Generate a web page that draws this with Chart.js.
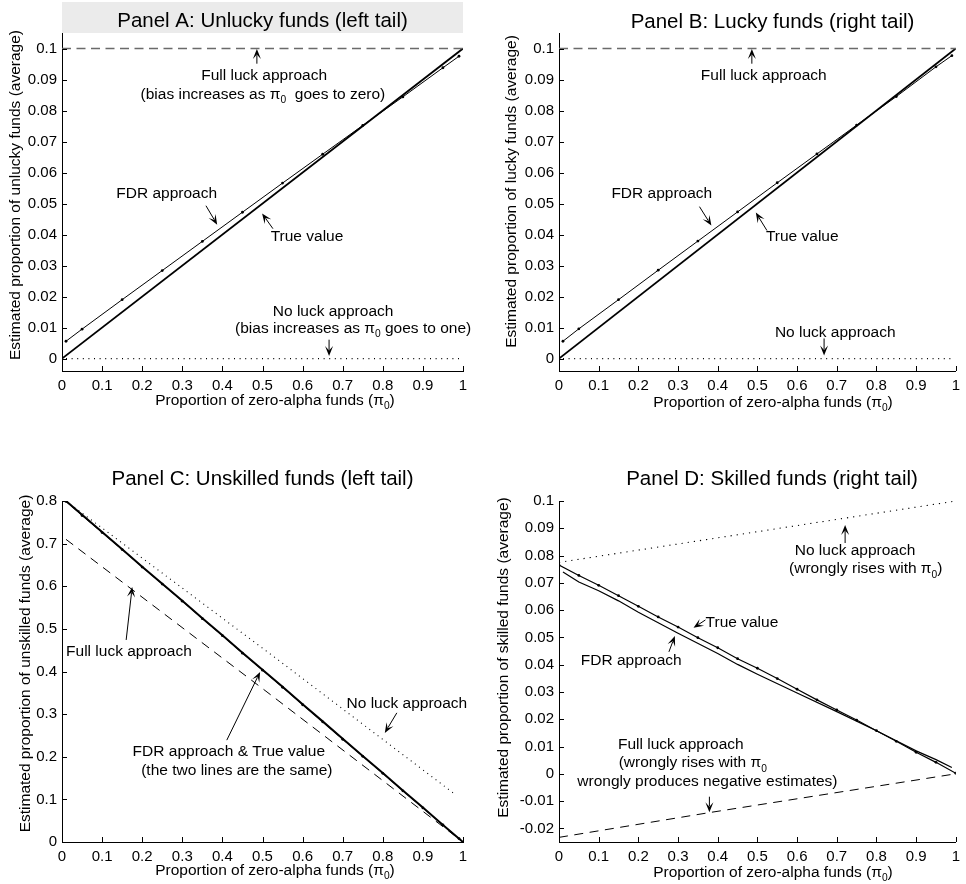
<!DOCTYPE html>
<html><head><meta charset="utf-8">
<script src="https://cdn.jsdelivr.net/npm/chart.js@4.4.1/dist/chart.umd.min.js"></script>
<style>
html,body{margin:0;padding:0;background:#fff;}
#wrap{position:relative;width:966px;height:884px;overflow:hidden;}
canvas{position:absolute;}
</style></head><body>
<div id="wrap">
<canvas id="cA" width="483" height="442" style="left:0;top:0;width:483px;height:442px"></canvas>
<canvas id="cB" width="483" height="442" style="left:483px;top:0;width:483px;height:442px"></canvas>
<canvas id="cC" width="483" height="442" style="left:0;top:442px;width:483px;height:442px"></canvas>
<canvas id="cD" width="483" height="442" style="left:483px;top:442px;width:483px;height:442px"></canvas>
</div>
<script>
// ---------- data ----------
const xTicks = [0,0.1,0.2,0.3,0.4,0.5,0.6,0.7,0.8,0.9,1];
const yTicksAB = [0,0.01,0.02,0.03,0.04,0.05,0.06,0.07,0.08,0.09,0.1];
const yTicksC = [0,0.1,0.2,0.3,0.4,0.5,0.6,0.7,0.8];
const yTicksD = [-0.02,-0.01,0,0.01,0.02,0.03,0.04,0.05,0.06,0.07,0.08,0.09,0.1];

// Panel A: unlucky funds
const piTrueA = [0, 1];
const trueA = [0, 0.1];
const piFdrA = [0.01,0.05,0.15,0.25,0.35,0.45,0.55,0.65,0.75,0.85,0.95,0.99];
const fdrA = [0.0056,0.0095,0.0190,0.0284,0.0378,0.0472,0.0566,0.0659,0.0752,0.0844,0.0938,0.0975];
const piFullA = [0, 1];
const fullA = [0.1, 0.1];
const piNoneA = [0.01, 0.99];
const noneA = [0, 0];

// Panel B: lucky funds
const piTrueB = [0, 1];
const trueB = [0, 0.1];
const piFdrB = [0.01,0.05,0.15,0.25,0.35,0.45,0.55,0.65,0.75,0.85,0.95,0.99];
const fdrB = [0.0056,0.0096,0.0190,0.0285,0.0379,0.0473,0.0567,0.0660,0.0753,0.0845,0.0941,0.0977];
const piFullB = [0, 1];
const fullB = [0.1, 0.1];
const piNoneB = [0.01, 0.99];
const noneB = [0, 0];

// Panel C: unskilled funds
const piTrueC = [0.01,0.05,0.1,0.15,0.2,0.25,0.3,0.35,0.4,0.45,0.5,0.55,0.6,0.65,0.7,0.75,0.8,0.85,0.9,0.95,1];
const trueC = [0.800,0.768,0.727,0.687,0.646,0.606,0.566,0.525,0.485,0.444,0.404,0.364,0.323,0.283,0.242,0.202,0.162,0.121,0.081,0.040,0];
const piFdrC = [0.01,0.05,0.1,0.15,0.2,0.25,0.3,0.35,0.4,0.45,0.5,0.55,0.6,0.65,0.7,0.75,0.8,0.85,0.9,0.95,0.99];
const fdrC = [0.799,0.766,0.726,0.686,0.645,0.605,0.565,0.524,0.484,0.443,0.403,0.363,0.322,0.282,0.241,0.201,0.161,0.120,0.080,0.040,0.008];
const piFullC = [0.01, 0.5, 1];
const fullC = [0.71, 0.36, 0];
const piNoneC = [0.01, 0.535, 0.98];
const noneC = [0.8, 0.43, 0.112];

// Panel D: skilled funds
const piTrueD = [0,0.05,0.1,0.15,0.2,0.25,0.3,0.35,0.4,0.45,0.5,0.55,0.6,0.65,0.7,0.75,0.8,0.85,0.9,0.95,1];
const trueD = [0.0765,0.0727,0.0691,0.0653,0.0614,0.0575,0.0538,0.0499,0.0462,0.0422,0.0387,0.0349,0.0310,0.0271,0.0234,0.0197,0.0158,0.0119,0.0079,0.0042,0.0002];
const piFdrD = [0.01,0.05,0.1,0.15,0.2,0.3,0.4,0.45,0.5,0.6,0.7,0.8,0.85,0.9,0.95,0.99];
const fdrD = [0.0740,0.0703,0.0671,0.0634,0.0592,0.0515,0.0441,0.0401,0.0365,0.0296,0.0228,0.0158,0.0121,0.0084,0.0052,0.0023];
const piFullD = [0, 0.38, 1];
const fullD = [-0.0233, -0.0142, 0];
const piNoneD = [0, 1];
const noneD = [0.0775, 0.1];

// ---------- helpers ----------
const FONT = '"Liberation Sans", Arial, Helvetica, sans-serif';
Chart.defaults.font.family = FONT;
Chart.defaults.color = '#000';

const pts = (xs, ys) => xs.map((x, i) => ({x: x, y: ys[i]}));
const fmt = v => Math.abs(v) < 1e-9 ? '0' : String(parseFloat(v.toFixed(3)));

function drawRich(ctx, parts, cx, cy, size, align) {
  const sub = size * 0.66;
  const ws = parts.map(p => { ctx.font = (p[1] ? sub : size) + 'px ' + FONT; return ctx.measureText(p[0]).width; });
  const w = ws.reduce((a, b) => a + b, 0);
  let x = align === 'left' ? cx : cx - w / 2;
  const base = cy + size * 0.36;
  ctx.textAlign = 'left';
  ctx.textBaseline = 'alphabetic';
  parts.forEach((p, i) => {
    ctx.font = (p[1] ? sub : size) + 'px ' + FONT;
    ctx.fillText(p[0], x, base + (p[1] ? size * 0.27 : 0));
    x += ws[i];
  });
}

function drawArrow(ctx, x1, y1, x2, y2) {
  const dx = x2 - x1, dy = y2 - y1, L = Math.hypot(dx, dy);
  const ux = dx / L, uy = dy / L, nx = -uy, ny = ux;
  const hl = 10, hw = 4;
  ctx.beginPath();
  ctx.moveTo(x1, y1);
  ctx.lineTo(x2 - ux * hl * 0.6, y2 - uy * hl * 0.6);
  ctx.stroke();
  ctx.beginPath();
  ctx.moveTo(x2, y2);
  ctx.lineTo(x2 - ux * hl + nx * hw, y2 - uy * hl + ny * hw);
  ctx.lineTo(x2 - ux * hl * 0.55, y2 - uy * hl * 0.55);
  ctx.lineTo(x2 - ux * hl - nx * hw, y2 - uy * hl - ny * hw);
  ctx.closePath();
  ctx.fill();
}

const decoPlugin = {
  id: 'deco',
  beforeDraw(chart, args, o) {
    const ctx = chart.ctx, a = chart.chartArea;
    ctx.save();
    ctx.fillStyle = '#fff';
    ctx.fillRect(0, 0, chart.width, chart.height);
    if (o.box) {
      ctx.fillStyle = '#ebebeb';
      ctx.fillRect(a.left, o.box, a.right - a.left, a.top - o.box);
    }
    ctx.restore();
  },
  afterDraw(chart, args, o) {
    const ctx = chart.ctx, a = chart.chartArea;
    const xs = chart.scales.x, ys = chart.scales.y;
    ctx.save();
    ctx.strokeStyle = '#000';
    ctx.fillStyle = '#000';
    ctx.lineWidth = 1;
    // inward tick marks
    ctx.beginPath();
    xs.ticks.forEach(t => {
      const px = Math.round(xs.getPixelForValue(t.value)) + 0.5;
      ctx.moveTo(px, a.bottom); ctx.lineTo(px, a.bottom - 5);
    });
    ys.ticks.forEach(t => {
      const py = Math.round(ys.getPixelForValue(t.value)) + 0.5;
      ctx.moveTo(a.left, py); ctx.lineTo(a.left + 5, py);
    });
    ctx.stroke();
    // panel title
    ctx.font = '20.5px ' + FONT;
    ctx.textAlign = 'center';
    ctx.textBaseline = 'alphabetic';
    ctx.fillText(o.title, o.titlePos[0], o.titlePos[1]);
    // y axis title
    ctx.save();
    ctx.translate(o.yTitlePos[0], o.yTitlePos[1]);
    ctx.rotate(-Math.PI / 2);
    drawRich(ctx, [[o.yTitle, 0]], 0, 0, 15.5);
    ctx.restore();
    // x axis title
    drawRich(ctx, [['Proportion of zero-alpha funds (\u03c0', 0], ['0', 1], [')', 0]], o.xTitlePos[0], o.xTitlePos[1], 15.5);
    // annotations
    ctx.lineWidth = 1;
    (o.notes || []).forEach(n => {
      if (n.arrow) {
        drawArrow(ctx, xs.getPixelForValue(n.arrow[0]), ys.getPixelForValue(n.arrow[1]),
                       xs.getPixelForValue(n.arrow[2]), ys.getPixelForValue(n.arrow[3]));
      } else {
        drawRich(ctx, n.parts, xs.getPixelForValue(n.x), ys.getPixelForValue(n.y), 15.5, n.align);
      }
    });
    ctx.restore();
  }
};

function makeChart(id, cfg) {
  const ds = [];
  ds.push({data: pts(cfg.none[0], cfg.none[1]), borderColor: '#000', borderWidth: 1.1, borderDash: cfg.noneDash, pointRadius: 0});
  ds.push({data: pts(cfg.full[0], cfg.full[1]), borderColor: cfg.fullColor, borderWidth: cfg.fullWidth, borderDash: cfg.fullDash, pointRadius: 0});
  ds.push({data: pts(cfg.tru[0], cfg.tru[1]), borderColor: '#000', borderWidth: cfg.trueWidth, pointRadius: cfg.trueDots ? 1.4 : 0, pointBackgroundColor: '#000', pointBorderWidth: 0});
  ds.push({data: pts(cfg.fdr[0], cfg.fdr[1]), borderColor: '#000', borderWidth: cfg.fdrWidth, pointRadius: cfg.trueDots ? 0 : 1.4, pointBackgroundColor: '#000', pointBorderWidth: 0});
  return new Chart(document.getElementById(id), {
    type: 'line',
    data: {datasets: ds},
    options: {
      responsive: false,
      animation: false,
      events: [],
      devicePixelRatio: 1,
      layout: {padding: {top: cfg.area[1], left: 0, right: 483 - cfg.area[2], bottom: 0}},
      elements: {line: {tension: 0, borderCapStyle: 'butt'}},
      plugins: {
        legend: {display: false},
        tooltip: {enabled: false},
        title: {display: false},
        deco: cfg.deco
      },
      scales: {
        x: {
          type: 'linear', min: 0, max: 1,
          grid: {display: false, drawTicks: false},
          border: {display: true, color: '#000', width: 1},
          ticks: {font: {size: 15}, padding: 6, maxRotation: 0, autoSkip: false, callback: v => fmt(v)},
          afterBuildTicks: s => { s.ticks = xTicks.map(v => ({value: v})); },
          afterFit: s => { s.height = 442 - cfg.area[3]; }
        },
        y: {
          type: 'linear', min: cfg.yRange[0], max: cfg.yRange[1],
          grid: {display: false, drawTicks: false},
          border: {display: true, color: '#000', width: 1},
          ticks: {font: {size: 15}, padding: 5, autoSkip: false, callback: v => fmt(v)},
          afterBuildTicks: s => { s.ticks = cfg.yTicks.map(v => ({value: v})); },
          afterFit: s => { s.width = cfg.area[0]; }
        }
      }
    },
    plugins: [decoPlugin]
  });
}

const P = s => [[s, 0]];

makeChart('cA', {
  area: [62, 33, 463, 371], yRange: [-0.004, 0.105], yTicks: yTicksAB,
  tru: [piTrueA, trueA], fdr: [piFdrA, fdrA], full: [piFullA, fullA], none: [piNoneA, noneA],
  trueWidth: 1.8, fdrWidth: 1, fullColor: '#6a6a6a', fullWidth: 1.4, fullDash: [9, 5.5], noneDash: [1, 4.6],
  deco: {
    box: 2, title: 'Panel A: Unlucky funds (left tail)', titlePos: [262.5, 26.5],
    yTitle: 'Estimated proportion of unlucky funds (average)', yTitlePos: [14, 195],
    xTitlePos: [275, 399],
    notes: [
      {parts: P('Full luck approach'), x: 0.504, y: 0.0916},
      {parts: [['(bias increases as \u03c0', 0], ['0', 1], ['  goes to zero)', 0]], x: 0.501, y: 0.0855},
      {arrow: [0.486, 0.0951, 0.486, 0.0998]},
      {parts: P('FDR approach'), x: 0.261, y: 0.0535},
      {arrow: [0.359, 0.0493, 0.387, 0.0432]},
      {parts: P('True value'), x: 0.611, y: 0.0397},
      {arrow: [0.526, 0.0419, 0.499, 0.0468]},
      {parts: P('No luck approach'), x: 0.676, y: 0.0155},
      {parts: [['(bias increases as \u03c0', 0], ['0', 1], [' goes to one)', 0]], x: 0.726, y: 0.0100},
      {arrow: [0.666, 0.0061, 0.666, 0.0008]}
    ]
  }
});

makeChart('cB', {
  area: [76, 33, 477, 371], yRange: [-0.004, 0.105], yTicks: yTicksAB,
  tru: [piTrueB, trueB], fdr: [piFdrB, fdrB], full: [piFullB, fullB], none: [piNoneB, noneB],
  trueWidth: 1.8, fdrWidth: 1, fullColor: '#6a6a6a', fullWidth: 1.4, fullDash: [9, 5.5], noneDash: [1, 4.6],
  deco: {
    box: 0, title: 'Panel B: Lucky funds (right tail)', titlePos: [289.5, 28],
    yTitle: 'Estimated proportion of lucky funds (average)', yTitlePos: [27, 191.5],
    xTitlePos: [290, 401],
    notes: [
      {parts: P('Full luck approach'), x: 0.516, y: 0.0916},
      {arrow: [0.486, 0.0951, 0.486, 0.0998]},
      {parts: P('FDR approach'), x: 0.259, y: 0.0535},
      {arrow: [0.354, 0.0490, 0.384, 0.0429]},
      {parts: P('True value'), x: 0.613, y: 0.0397},
      {arrow: [0.524, 0.0413, 0.496, 0.0471]},
      {parts: P('No luck approach'), x: 0.696, y: 0.0088},
      {arrow: [0.668, 0.0065, 0.668, 0.0010]}
    ]
  }
});

makeChart('cC', {
  area: [62, 59, 463, 400], yRange: [0, 0.8], yTicks: yTicksC,
  tru: [piTrueC, trueC], fdr: [piFdrC, fdrC], full: [piFullC, fullC], none: [piNoneC, noneC],
  trueWidth: 2, fdrWidth: 1, fullColor: '#000', fullWidth: 1, fullDash: [9, 6.5], noneDash: [1, 4.2],
  deco: {
    box: 0, title: 'Panel C: Unskilled funds (left tail)', titlePos: [262.5, 43],
    yTitle: 'Estimated proportion of unskilled funds (average)', yTitlePos: [24, 221.5],
    xTitlePos: [275, 427],
    notes: [
      {parts: P('Full luck approach'), x: 0.167, y: 0.450},
      {arrow: [0.160, 0.474, 0.175, 0.598]},
      {parts: P('FDR approach & True value'), x: 0.416, y: 0.216},
      {parts: P('(the two lines are the same)'), x: 0.436, y: 0.171},
      {arrow: [0.411, 0.239, 0.494, 0.399]},
      {parts: P('No luck approach'), x: 0.860, y: 0.328},
      {arrow: [0.835, 0.303, 0.805, 0.256]}
    ]
  }
});

makeChart('cD', {
  area: [76, 59, 477, 400], yRange: [-0.025, 0.1], yTicks: yTicksD,
  tru: [piTrueD, trueD], fdr: [piFdrD, fdrD], full: [piFullD, fullD], none: [piNoneD, noneD],
  trueWidth: 1.2, fdrWidth: 1.2, trueDots: true, fullColor: '#000', fullWidth: 1, fullDash: [9, 6.5], noneDash: [1.2, 5],
  deco: {
    box: 0, title: 'Panel D: Skilled funds (right tail)', titlePos: [289, 43],
    yTitle: 'Estimated proportion of skilled funds (average)', yTitlePos: [19, 215.5],
    xTitlePos: [290, 429],
    notes: [
      {parts: P('No luck approach'), x: 0.746, y: 0.0824},
      {parts: [['(wrongly rises with \u03c0', 0], ['0', 1], [')', 0]], x: 0.773, y: 0.0755},
      {arrow: [0.721, 0.0846, 0.721, 0.0912]},
      {parts: P('True value'), x: 0.461, y: 0.0560},
      {arrow: [0.369, 0.0564, 0.339, 0.0535]},
      {parts: P('FDR approach'), x: 0.182, y: 0.0421},
      {arrow: [0.277, 0.0447, 0.292, 0.0505]},
      {parts: P('Full luck approach'), x: 0.307, y: 0.0110},
      {parts: [['(wrongly rises with \u03c0', 0], ['0', 1]], x: 0.337, y: 0.0044},
      {parts: P('wrongly produces negative estimates)'), x: 0.374, y: -0.0026},
      {arrow: [0.379, -0.0084, 0.379, -0.0141]}
    ]
  }
});
</script>
</body></html>
